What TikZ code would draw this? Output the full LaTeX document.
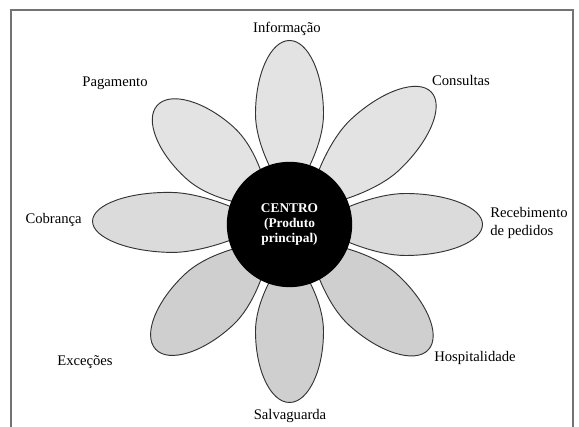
\documentclass[tikz,border=0pt]{standalone}
\usepackage{fontspec}
\setmainfont{Liberation Serif}

\begin{document}
\begin{tikzpicture}[
            x=.75pt, y=.75pt,
            frame/.style={draw=black!55, line width=1.1pt},
            petal/.style={draw=black!80, line width=.7pt},
            core/.style={circle, fill=black, text=white, minimum size=94,
                inner sep=0pt, align=center, font=\bfseries\fontsize{10}{11.6}\selectfont},
            lbl/.style={font=\fontsize{11}{14}\selectfont},
        ]
            \useasboundingbox (0, 0) rectangle (579, 427);

            %% open frame of the scanned page
            \draw[frame] (11, 0) -- (11, 417) -- (573, 417) -- (573, 0);

            \coordinate (c) at (289.5, 202.5);

            %% petals: angle / length / half width / shade
            \foreach \a/\r/\b/\s in {90/184/34/11, 43/194/35/11, 0/193/31/14,
                    -42/187/35/19, -90/178/34/19, -137/183/35/19,
                    179/197/30/14, 138/178/35/11}{
                \begin{scope}[shift={(c)}, rotate=\a]
                    \pgfmathsetmacro{\m}{\r-0.4*\r}
                    \draw[petal, fill=black!\s] (25, 0)
                        .. controls (48, {0.5*\b}) and ({\m-28}, \b) .. (\m, \b)
                        .. controls ({\r-0.18*\r}, \b) and (\r, {0.552*\b}) .. (\r, 0)
                        .. controls (\r, {-0.552*\b}) and ({\r-0.18*\r}, -\b) .. (\m, -\b)
                        .. controls ({\m-28}, -\b) and (48, {-0.5*\b}) .. (25, 0)
                        -- cycle;
                \end{scope}
            }

            \node[core] (centro) at (c) {CENTRO\\(Produto\\principal)};

            \node[lbl] (info) at (287, 398) {Informação};
            \node[lbl] (consultas) at (461, 347) {Consultas};
            \node[lbl] (pagamento) at (115, 344) {Pagamento};
            \node[lbl, anchor=east, inner sep=0pt] (cobranca) at (82, 207) {Cobrança};
            \node[lbl, anchor=west, align=left, inner sep=0pt] (pedidos) at (490, 204)
                {Recebimento\\de pedidos};
            \node[lbl] (excecoes) at (85, 65) {Exceções};
            \node[lbl] (hospitalidade) at (475, 69) {Hospitalidade};
            \node[lbl] (salvaguarda) at (290, 11) {Salvaguarda};
        \end{tikzpicture}
\end{document}
